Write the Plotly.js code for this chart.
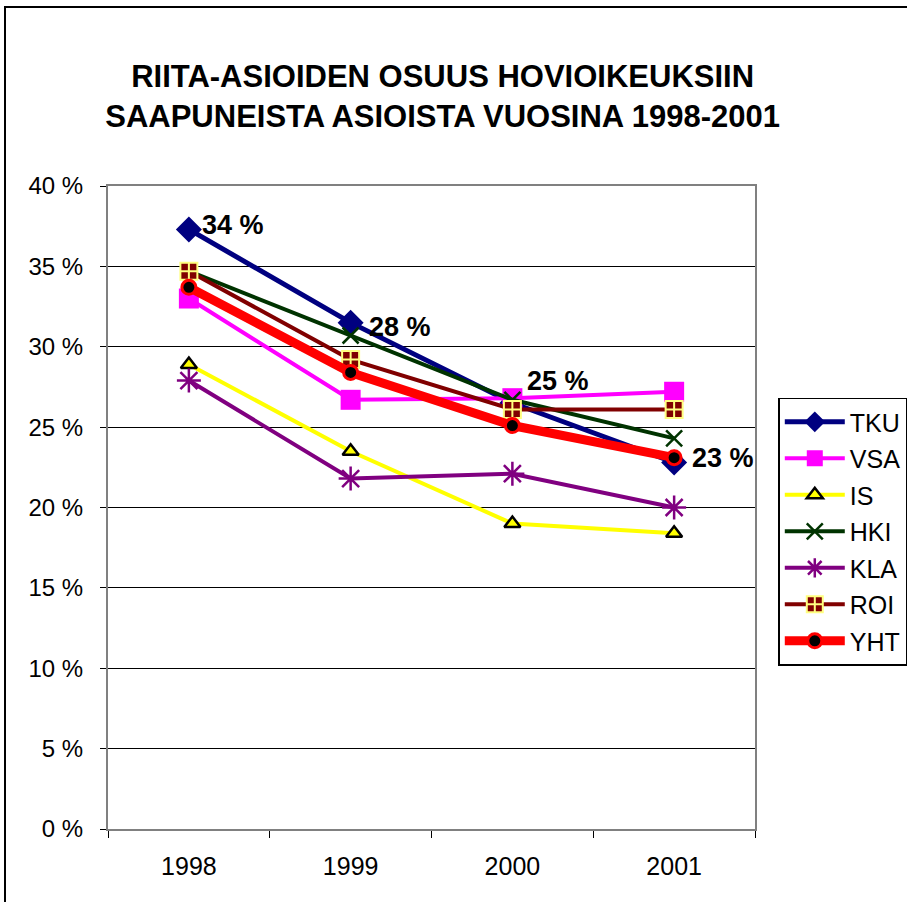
<!DOCTYPE html>
<html>
<head>
<meta charset="utf-8">
<script src="https://cdn.plot.ly/plotly-3.0.1.min.js"></script>
<style>
html,body{margin:0;padding:0;background:#fff;}
#chart{position:absolute;left:0;top:0;width:907px;height:902px;}
#frame{position:absolute;left:4px;top:6px;width:903px;height:896px;border-left:2px solid #000;border-top:2px solid #000;pointer-events:none;}
</style>
</head>
<body>
<div id="chart"></div>
<div id="frame"></div>
<script>
const years = ['1998', '1999', '2000', '2001'];
const TKU = [37.3, 31.5, 26.5, 22.8];
const VSA = [33.0, 26.7, 26.8, 27.2];
const IS  = [28.9, 23.5, 19.0, 18.4];
const HKI = [34.7, 30.7, 26.7, 24.3];
const KLA = [27.9, 21.8, 22.1, 20.0];
const ROI = [34.7, 29.2, 26.1, 26.1];
const YHT = [33.7, 28.4, 25.1, 23.1];
const seriesNames = ['TKU', 'VSA', 'IS', 'HKI', 'KLA', 'ROI', 'YHT'];
const yTicks = [0, 5, 10, 15, 20, 25, 30, 35, 40];

const styles = {
  TKU: {line:{color:'#000080', width:5}, marker:{symbol:'diamond', size:20, color:'#000080', line:{width:0}}},
  VSA: {line:{color:'#FF00FF', width:4}, marker:{symbol:'square', size:20, color:'#FF00FF', line:{width:0}}},
  IS:  {line:{color:'#FFFF00', width:4}, marker:{symbol:'triangle-up', size:14, color:'#FFFF00', line:{width:2.5, color:'#000000'}}},
  HKI: {line:{color:'#003300', width:4}, marker:{symbol:'x-thin', size:16, color:'#003300', line:{width:2.5, color:'#003300'}}},
  KLA: {line:{color:'#800080', width:4}, marker:{symbol:'asterisk', size:20, color:'#800080', line:{width:2.5, color:'#800080'}}},
  ROI: {line:{color:'#800000', width:4}, marker:{symbol:'square-cross', size:17, color:'#800000', line:{width:2, color:'#FFFF80'}}},
  YHT: {line:{color:'#FF0000', width:9}, marker:{symbol:'circle', size:14, color:'#000000', line:{width:3, color:'#FF0000'}}}
};
const dataMap = {TKU, VSA, IS, HKI, KLA, ROI, YHT};

const traces = seriesNames.map(n => ({
  type:'scatter', mode:'lines+markers', name:n, x:years, y:dataMap[n],
  line:styles[n].line, marker:styles[n].marker, legendgroup:n, cliponaxis:false
}));

const labelY = [37.6, 31.2, 27.9, 23.1];
const labelShift = [11, 16, 13, 16];
const labelAnnotations = years.map(function (yr, i) {
  return {
    x: i, y: labelY[i], xref: 'x', yref: 'y', xanchor: 'left', yanchor: 'middle',
    xshift: labelShift[i], showarrow: false,
    text: '<b>' + Math.round(YHT[i]) + ' %</b>',
    font: {family: 'Liberation Sans, Arial, sans-serif', size: 27, color: '#000000'}
  };
});

const layout = {
  width:907, height:902,
  margin:{l:108, r:152, t:186, b:73, autoexpand:false},
  paper_bgcolor:'#fff', plot_bgcolor:'#fff',
  font:{family:'Liberation Sans, Arial, sans-serif', color:'#000'},
  title:{text:'<b>RIITA-ASIOIDEN OSUUS HOVIOIKEUKSIIN<br>SAAPUNEISTA ASIOISTA VUOSINA 1998-2001</b>',
         x:0.488, xanchor:'center', y:0.904, yanchor:'middle',
         font:{size:31, family:'Liberation Sans, Arial, sans-serif', color:'#000'}},
  xaxis:{type:'category', categoryarray:years, range:[-0.5, 3.5],
         showline:true, linecolor:'#808080', linewidth:2, mirror:true,
         ticks:'outside', tickson:'boundaries', ticklen:7, tickcolor:'#000', tickwidth:1,
         showgrid:false, tickfont:{size:25}, ticklabelstandoff:14, zeroline:false},
  yaxis:{range:[0, 40], tickvals:yTicks, ticktext:yTicks.map(v => v + ' %'),
         showline:true, linecolor:'#808080', linewidth:2, mirror:true,
         ticks:'outside', ticklen:6, tickcolor:'#000', tickwidth:1,
         showgrid:true, gridcolor:'#000', gridwidth:1, zeroline:false,
         tickfont:{size:24}, ticklabelstandoff:12},
  legend:{x:1.036, y:0.671, xanchor:'left', yanchor:'top', bordercolor:'#000', borderwidth:1.5,
          bgcolor:'#fff', font:{size:25}, tracegroupgap:1, itemwidth:60},
  showlegend:true,
  annotations: labelAnnotations
};

Plotly.newPlot('chart', traces, layout, {displayModeBar:false, staticPlot:true});
</script>
</body>
</html>
